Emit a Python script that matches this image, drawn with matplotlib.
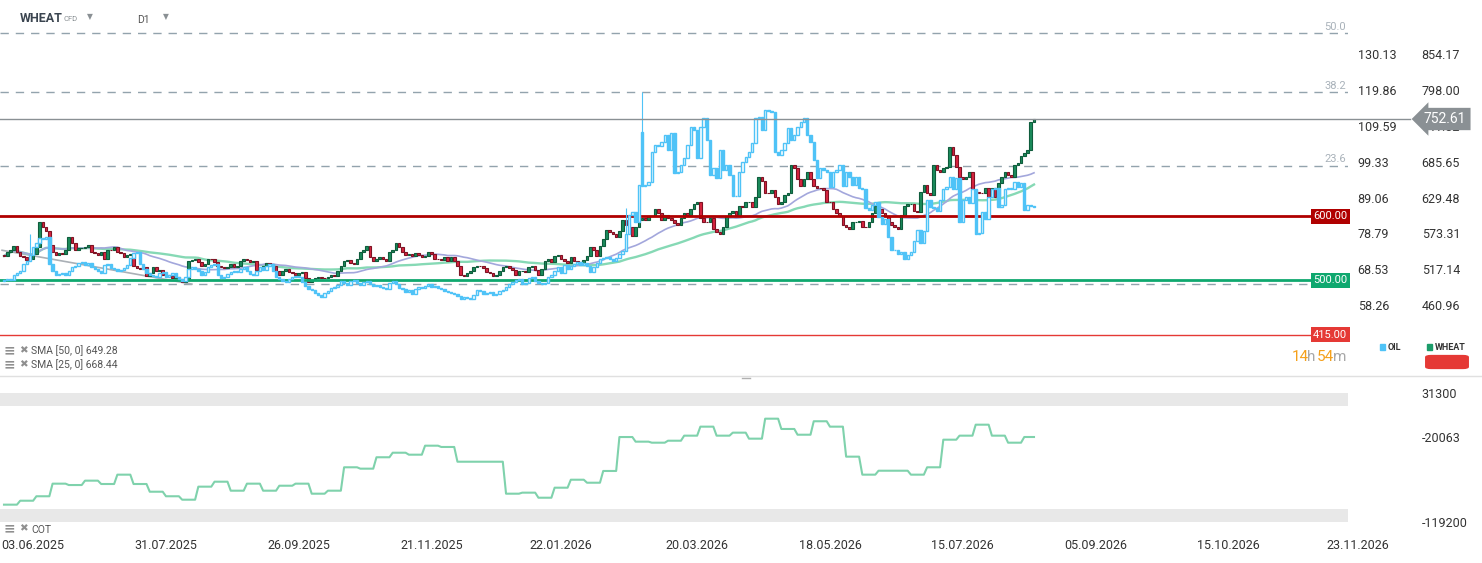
import matplotlib
matplotlib.use("Agg")
import matplotlib.pyplot as plt
import matplotlib.transforms as mtrans
from matplotlib.lines import Line2D
from matplotlib.patches import FancyBboxPatch
import numpy as np
import pandas as pd

plt.rcParams['font.family'] = ['Roboto', 'DejaVu Sans']

W, H = 1482, 563

# ---- data ----
wheat_close = [
    538, 545, 548, 553, 544, 538, 536, 531, 533, 541,
    552, 591, 583, 577, 555, 545, 539, 542, 541, 548,
    567, 559, 548, 550, 550, 552, 556, 545, 542, 539,
    544, 534, 548, 547, 552, 544, 542, 536, 539, 541,
    523, 519, 517, 520, 506, 511, 520, 514, 516, 509,
    508, 506, 503, 505, 502, 497, 500, 530, 531, 533,
    528, 523, 525, 534, 533, 528, 522, 520, 519, 520,
    525, 520, 522, 530, 533, 531, 528, 530, 516, 517,
    523, 527, 525, 522, 514, 509, 514, 517, 513, 512,
    509, 511, 513, 503, 498, 500, 503, 505, 504, 503,
    505, 508, 506,
    514, 523, 530, 531, 527, 525, 534, 544, 548, 553,
    536, 530, 533, 536, 533, 530, 545, 548, 559, 552,
    544, 539, 541, 538, 542, 539, 536, 538, 544, 541,
    534, 533, 532, 536, 530, 536, 530, 522, 508, 506,
    511, 514, 520, 523, 522, 519, 513, 511, 506, 509,
    514, 520, 522, 519, 516, 509, 514, 515, 513, 520,
    522, 516, 509, 517, 530, 533, 528, 538, 539, 533,
    530, 527, 536, 530, 528, 527, 531, 538, 552, 548,
    538, 553, 564, 578, 575, 572, 567, 577, 595,
    587, 583, 570, 583, 595, 598, 595, 601, 600, 611,
    606, 594, 603, 598, 595, 589, 587, 597, 606, 603,
    611, 619, 622, 598, 592, 591, 597, 580, 575, 572,
    583, 600, 606, 608, 600, 616, 614, 622, 623, 614,
    631, 661, 655, 637, 636, 642, 630, 619, 623, 634,
    637, 681, 676, 658, 647, 658, 670, 658, 647, 645,
    644, 642, 623, 622, 611, 606, 600, 587,
    583, 580, 591, 592, 593, 584, 583, 591, 606, 616,
    611, 606, 600, 592, 587, 583, 580, 603, 616, 619,
    620, 608, 607, 639, 650, 637, 634, 681, 673, 670,
    676, 678, 708, 697, 678, 662, 658, 661, 669, 642,
    639, 637, 636, 645, 631, 645, 630, 653, 662, 670,
    665, 662, 681, 684, 694, 700, 704, 748, 752.61,
]

oil_close = [
    65.4, 65.7, 65.6, 66.8, 67.4, 68.0, 70.0, 70.8, 72.5, 74.8,
    76.2, 77.4, 77.1, 77.9, 70.0, 68.0, 66.8, 67.1, 67.4, 66.8,
    68.0, 69.1, 69.4, 70.2, 70.5, 69.7, 70.2, 69.1, 68.5, 68.0,
    67.4, 69.7, 70.0, 68.8, 68.5, 68.0, 68.2, 68.8, 69.7, 71.9,
    73.1, 73.4, 70.0, 68.5, 67.4, 66.8, 66.5, 66.2, 67.4, 67.7,
    66.2, 66.8, 67.4, 66.2, 65.7, 65.1, 66.2, 68.5, 69.1, 68.5,
    68.0, 66.8, 67.7, 69.1, 69.7, 70.0, 66.8, 66.0, 66.2, 67.1,
    67.7, 68.0, 67.9, 68.5, 69.1, 68.0, 67.1, 66.8, 68.0, 69.1,
    68.2, 69.4, 70.0, 68.0, 66.2, 65.7, 65.1, 64.8, 65.7, 66.2,
    66.5, 66.2, 64.8, 63.7, 62.8, 62.5, 61.7, 61.1, 60.5, 61.7,
    62.2, 63.1, 63.4,
    64.0, 65.1, 64.5, 64.0, 65.1, 65.4, 64.5, 64.0, 64.8, 65.1,
    64.2, 63.7, 64.0, 63.4, 63.1, 62.8, 64.5, 65.1, 64.2, 63.1,
    62.8, 61.9, 62.5, 61.4, 62.8, 63.4, 63.1, 63.7, 64.2, 63.4,
    63.7, 63.1, 62.8, 62.2, 61.9, 61.7, 61.4, 60.8, 60.0, 60.5,
    60.2, 59.9, 61.1, 62.5, 62.2, 61.4, 61.7, 61.9, 61.1, 61.4,
    62.2, 62.5, 63.4, 64.2, 64.8, 65.4, 65.7, 64.2, 64.5, 66.0,
    66.2, 65.1, 64.5, 64.2, 64.5, 66.2, 66.8, 68.0, 69.1, 67.4,
    69.7, 68.5, 69.4, 70.0, 70.5, 69.7, 70.2, 69.4, 67.7, 69.1,
    70.2, 71.4, 71.9, 72.2, 71.6, 70.8, 71.9, 72.8, 73.9,
    78.5, 84.2, 84.8, 82.2, 92.8, 92.5, 92.8, 93.6, 102.2, 104.2,
    103.9, 105.0, 107.0, 102.8, 107.6, 96.2, 96.5, 98.5, 100.5, 104.2,
    109.3, 108.5, 100.5, 109.3, 111.9, 105.6, 95.6, 97.6, 94.8, 102.8,
    97.1, 98.5, 95.6, 89.6, 89.4, 96.5, 99.3, 100.8, 102.2, 104.8,
    111.9, 112.2, 108.5, 114.2, 114.0, 113.6, 102.2, 101.3, 102.8, 104.8,
    109.0, 105.6, 107.0, 109.3, 110.7, 111.9, 107.0, 105.0, 99.9, 94.8,
    97.6, 97.1, 96.5, 92.2, 96.5, 97.1, 98.5, 92.5,
    96.5, 95.1, 92.8, 95.1, 91.9, 91.4, 86.2, 85.6, 87.0, 87.9,
    83.4, 81.4, 82.8, 77.9, 74.2, 74.0, 72.8, 73.4, 71.4, 72.5,
    73.6, 76.5, 79.9, 76.2, 79.4, 88.5, 86.5, 86.2, 85.1, 88.5,
    91.4, 92.2, 95.1, 91.4, 94.8, 82.2, 88.5, 89.1, 87.6, 91.4,
    78.5, 78.8, 84.8, 82.8, 89.1, 91.4, 91.9, 86.5, 87.0, 91.4,
    91.9, 91.4, 93.6, 92.2, 93.3, 85.6, 87.0, 86.8, 86.5,
]
oil_open_fix = {197: 107.9}
oil_high_fix = {8: 78.5, 192: 86.2, 197: 119.3}

cot_weekly = [
    -99000, -94400, -89200, -74500, -76100, -71000, -74900, -64000, -74900, -83900,
    -89200, -93200, -78000, -72200, -82700, -74500, -82700, -76900, -74500, -86200,
    -82700, -55400, -57000, -43700, -38400, -40700, -30200, -31700, -48900, -48900,
    -48900, -86200, -85000, -90900, -79200, -69900, -73400, -59700, -20100, -25500,
    -26700, -24400, -18500, -8000, -18500, -15000, -22000, 1300, -10700, -17400,
    -1700, -8000, -43000, -64000, -59400, -59400, -64000, -55400, -23200, -18500,
    -5700, -18500, -26700, -20063,
]
cot_max, cot_min, cot_last = 31300, -119200, -20063

date_labels = ['03.06.2025', '31.07.2025', '26.09.2025', '21.11.2025', '22.01.2026',
               '20.03.2026', '18.05.2026', '15.07.2026', '05.09.2026', '15.10.2026',
               '23.11.2026']
date_ticks = [9, 50, 91, 132, 172, 214, 255, 296, 337, 378, 418]

wheat_ticks = [460.96, 517.14, 573.31, 629.48, 685.65, 741.82, 798.00, 854.17]
oil_ticks = [58.26, 68.53, 78.79, 89.06, 99.33, 109.59, 119.86, 130.13]

fib_low, fib_high = 494.0, 1280.0
fib_levels = [0.0, 23.6, 38.2, 50.0]
levels = [600.0, 500.0, 415.0]
level_colors = ['#b00000', '#0fa86f', '#e53935']
level_widths = [2.0, 2.0, 1.0]
last_price = 752.61
trend_x = [-0.6, 58]
trend_y = [547, 494]
sma_text = ['SMA [50, 0] 649.28', 'SMA [25, 0] 668.44']

n = len(wheat_close)
x = np.arange(n)
x0_px = 4
bar_px = 1030 / (n - 1)


def fx(px):
    return px / W


def fy(py):
    return 1 - py / H


def candles(axis, o, c, hi, lo, up_fc, up_ec, dn_fc, dn_ec, z, lw=0.7, width=0.78):
    o = np.asarray(o, float)
    c = np.asarray(c, float)
    up = c >= o
    bottom = np.minimum(o, c)
    height = np.maximum(np.abs(c - o), 0.6 * (hi.max() - lo.min()) / 400)
    axis.vlines(x, lo, hi, colors=np.where(up, up_ec, dn_ec), lw=0.8, zorder=z)
    axis.bar(x, height, bottom=bottom, width=width,
             color=np.where(up, up_fc, dn_fc), edgecolor=np.where(up, up_ec, dn_ec),
             linewidth=lw, zorder=z + 0.1)


fig = plt.figure(figsize=(W / 100, H / 100), dpi=100)
fig.patch.set_facecolor('white')

# ---- main price panel ----
ax = fig.add_axes([0, fy(372), 1348 / W, 364 / H])
ax.set_xlim(-x0_px / bar_px, (1348 - x0_px) / bar_px)
ax.set_ylim(356.3, 926.5)
ax2 = ax.twinx()
k = (oil_ticks[-1] - oil_ticks[0]) / (wheat_ticks[-1] - wheat_ticks[0])
lo_w, hi_w = ax.get_ylim()
ax2.set_ylim(oil_ticks[0] + (lo_w - wheat_ticks[0]) * k,
             oil_ticks[0] + (hi_w - wheat_ticks[0]) * k)
ax2.set_xlim(ax.get_xlim())

for a in (ax, ax2):
    for s in a.spines.values():
        s.set_visible(False)
    a.set_xticks([])
    a.patch.set_visible(False)

# oil bars
oc = np.array(oil_close)
oo = np.r_[oc[0] - 0.2, oc[:-1]]
for i, v in oil_open_fix.items():
    oo[i] = v
oh = np.maximum(oo, oc)
ol = np.minimum(oo, oc)
for i, v in oil_high_fix.items():
    oh[i] = v
candles(ax2, oo, oc, oh, ol, 'white', '#4fc3f7', '#4fc3f7', '#4fc3f7', 2, lw=1.0,
        width=0.72)

# trend line and SMAs
ax.plot(trend_x, trend_y, color='#aab0b6', lw=1.2, zorder=1.5)
wc = np.array(wheat_close, float)
sma50 = pd.Series(wc).rolling(50, min_periods=1).mean()
sma25 = pd.Series(wc).rolling(25, min_periods=1).mean()
ax.plot(x, sma50, color='#86d9b5', lw=1.7, zorder=3)
ax.plot(x, sma25, color='#a3a7dc', lw=1.2, zorder=3)

# wheat candles
wo = np.r_[wc[0] + 2, wc[:-1]]
candles(ax, wo, wc, np.maximum(wo, wc), np.minimum(wo, wc),
        '#1b8c5c', '#0f5c3c', '#d8243f', '#7e1324', 4, lw=0.8, width=0.8)

# fib levels
blend = mtrans.blended_transform_factory(ax.transAxes, ax.transData)
for p in fib_levels:
    lv = fib_low + (fib_high - fib_low) * p / 100
    ax.axhline(lv, color='#93a3ad', lw=1, ls=(0, (6, 5)), zorder=1)
    ax.text(0.9985, lv + 2, f'{p:.1f}', transform=blend, ha='right', va='bottom',
            fontsize=8, color='#a9b2ba', zorder=6)

# horizontal levels
for lv, col, lw in zip(levels, level_colors, level_widths):
    ax.axhline(lv, color=col, lw=lw, zorder=5)
    ax.text(0.9995, lv, f'{lv:.2f}', transform=blend, ha='right', va='center',
            fontsize=8, color='white', zorder=10,
            bbox=dict(boxstyle='square,pad=0.22', fc=col, ec='none'))

# axis labels on the right
ax.yaxis.tick_right()
ax.set_yticks(wheat_ticks)
ax.set_yticklabels([f'{t:.2f}' for t in wheat_ticks])
ax.tick_params(axis='y', length=0, pad=53, labelsize=9, labelcolor='#333333')
ax2.set_yticks(oil_ticks)
ax2.set_yticklabels([f'{t:.2f}' for t in oil_ticks])
ax2.tick_params(axis='y', length=0, pad=7, labelsize=9, labelcolor='#333333')

# current price line and tag
blend2 = mtrans.blended_transform_factory(ax2.transAxes, ax.transData)
ax2.plot([0, 1410 / 1348], [last_price, last_price], transform=blend2,
         color='#8a9094', lw=1, clip_on=False, zorder=7)
ax2.text(1424 / 1348, last_price, f'{last_price:.2f}', transform=blend2,
         ha='left', va='center', fontsize=10, color='white', zorder=12,
         clip_on=False,
         bbox=dict(boxstyle='larrow,pad=0.3', fc='#8a9094', ec='none'))

# ---- COT panel ----
cax = fig.add_axes([0, fy(528), 1348 / W, 142 / H])
cax.set_xlim(ax.get_xlim())
cax.set_ylim(-126224, 39434)
band = 0.1 * (cot_max - cot_min)
cax.axhspan(cot_max - band, cot_max, color='#e8e8e8', lw=0, zorder=0)
cax.axhspan(cot_min, cot_min + band, color='#e8e8e8', lw=0, zorder=0)
cx, cy = [], []
for wk, v in enumerate(cot_weekly):
    a0 = 5 * wk
    a1 = min(5 * wk + 4, n - 1)
    cx += [a0, a1]
    cy += [v, v]
cax.plot(cx, cy, color='#7fd2ac', lw=1.5, zorder=3)
for s in cax.spines.values():
    s.set_visible(False)
cax.set_xticks([])
cax.yaxis.tick_right()
cax.set_yticks([cot_max, cot_last, cot_min])
cax.set_yticklabels([str(cot_max), str(cot_last), str(cot_min)])
cax.tick_params(axis='y', length=0, pad=53, labelsize=9, labelcolor='#333333')
cax.patch.set_visible(False)

# ---- date axis ----
dax = fig.add_axes([0, fy(538), 1, 0.0001])
dax.set_xlim(-x0_px / bar_px, (W - x0_px) / bar_px)
for s in dax.spines.values():
    s.set_visible(False)
dax.set_yticks([])
dax.set_xticks(date_ticks)
dax.set_xticklabels(date_labels)
dax.tick_params(axis='x', length=0, pad=1, labelsize=9, labelcolor='#333333')
dax.patch.set_visible(False)

# ---- header and legends ----
fig.text(fx(20), fy(18), 'WHEAT', fontsize=9, fontweight='bold', color='#3b4550',
         va='center')
fig.text(fx(64), fy(19), 'CFD', fontsize=5.5, color='#8a9094', va='center')
fig.text(fx(87), fy(17), '▼', fontsize=5.5, color='#8a9094', va='center',
         family='DejaVu Sans')
fig.text(fx(137), fy(20), 'D1', fontsize=7.5, color='#555555', va='center')
fig.text(fx(163), fy(17), '▼', fontsize=5.5, color='#8a9094', va='center',
         family='DejaVu Sans')

for i, t in enumerate(sma_text):
    yy = 350 + 14 * i
    fig.text(fx(4), fy(yy), '≡', fontsize=10, color='#8f8f8f', va='center',
             family='DejaVu Sans', fontweight='bold')
    fig.text(fx(19), fy(yy), '✖', fontsize=7.5, color='#8f8f8f', va='center',
             family='DejaVu Sans')
    fig.text(fx(31), fy(yy + 1), t, fontsize=7.5, color='#555555', va='center')

fig.text(fx(4), fy(528), '≡', fontsize=10, color='#8f8f8f', va='center',
         family='DejaVu Sans', fontweight='bold')
fig.text(fx(19), fy(528), '✖', fontsize=7.5, color='#8f8f8f', va='center',
         family='DejaVu Sans')
fig.text(fx(31), fy(530), 'COT', fontsize=7.5, color='#555555', va='center')

# countdown
parts = [('14', '#f5a01a'), ('h ', '#a8a8a8'), ('54', '#f5a01a'), ('m', '#a8a8a8')]
px_pos = [1292, 1307, 1317, 1333]
for (t, col), xp in zip(parts, px_pos):
    fig.text(fx(xp), fy(357), t, fontsize=11, color=col, va='center')

# series legend
fig.patches.append(plt.Rectangle((fx(1380), fy(350)), 5 / W, 6 / H,
                                 transform=fig.transFigure, color='#4fc3f7'))
fig.text(fx(1388), fy(347), 'OIL', fontsize=6.5, fontweight='bold', color='#333333',
         va='center')
fig.patches.append(plt.Rectangle((fx(1427), fy(350)), 5 / W, 6 / H,
                                 transform=fig.transFigure, color='#1b9c6a'))
fig.text(fx(1435), fy(347), 'WHEAT', fontsize=6.5, fontweight='bold', color='#333333',
         va='center')
fig.patches.append(FancyBboxPatch((fx(1428), fy(368)), 38 / W, 12 / H,
                                  boxstyle='round,pad=0.002,rounding_size=0.004',
                                  transform=fig.transFigure, fc='#e53935', ec='none'))

# separator
fig.lines.append(Line2D([0, 1], [fy(376), fy(376)], transform=fig.transFigure,
                        color='#e0e0e0', lw=1))
fig.lines.append(Line2D([fx(742), fx(750)], [fy(377.5), fy(377.5)],
                        transform=fig.transFigure, color='#b0b0b0', lw=1))

fig.savefig('out.png', dpi=100, facecolor='white')
